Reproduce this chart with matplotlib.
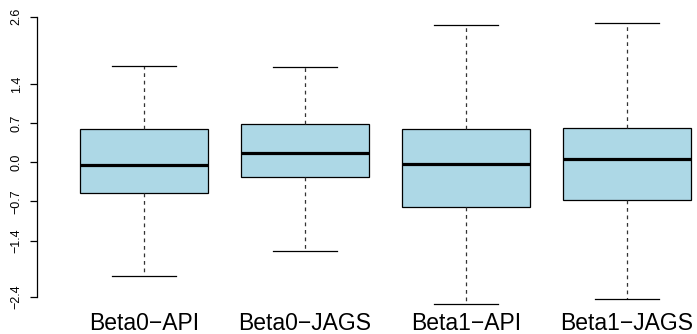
import matplotlib
matplotlib.use("Agg")
import matplotlib.pyplot as plt

categories = ["Beta0\u2212API", "Beta0\u2212JAGS", "Beta1\u2212API", "Beta1\u2212JAGS"]
whislo = [-2.03, -1.58, -2.53, -2.44]
q1 = [-0.54, -0.26, -0.79, -0.68]
med = [-0.04, 0.17, -0.03, 0.06]
q3 = [0.60, 0.68, 0.60, 0.61]
whishi = [1.72, 1.70, 2.45, 2.49]
yticks = [-2.4, -1.4, -0.7, 0.0, 0.7, 1.4, 2.6]

W, H = 697, 334
fig = plt.figure(figsize=(W / 100, H / 100), dpi=100)

# pixel mapping: y_px = 162.3 - 56*v ; x: 1 -> 144, spacing 161
ylo, yhi = -2.75, 2.7
top_px = 162.3 - 56 * yhi
bot_px = 162.3 - 56 * ylo
xl_px = 36.7
xlo = 1 - (144 - xl_px) / 161
xhi = 1 + (W - 144) / 161
ax = fig.add_axes([xl_px / W, 1 - bot_px / H, (W - xl_px) / W, (bot_px - top_px) / H])

stats = []
for i, c in enumerate(categories):
    stats.append(dict(label=c, whislo=whislo[i], q1=q1[i], med=med[i], q3=q3[i], whishi=whishi[i], fliers=[]))

ax.bxp(stats, positions=[1, 2, 3, 4], widths=0.8, capwidths=0.4, patch_artist=True,
       boxprops=dict(facecolor="lightblue", edgecolor="black", linewidth=0.9),
       medianprops=dict(color="black", linewidth=2.3, solid_capstyle="butt"),
       whiskerprops=dict(color="#333333", linewidth=0.9, linestyle=(0, (3, 3))),
       capprops=dict(color="black", linewidth=0.9),
       showfliers=False)

ax.set_xlim(xlo, xhi)
ax.set_ylim(ylo, yhi)
for s in ["top", "right", "bottom"]:
    ax.spines[s].set_visible(False)
ax.spines["left"].set_bounds(-2.4, 2.6)
ax.spines["left"].set_linewidth(0.9)
ax.set_yticks(yticks)
ax.set_yticklabels([f"{v:.1f}".replace("-", "\u2212") for v in yticks],
                   rotation=90, va="center", fontsize=9, family="Liberation Sans")
ax.tick_params(axis="y", length=5, width=0.9, pad=5)
ax.tick_params(axis="x", length=0, pad=-3)
ax.set_xticks([1, 2, 3, 4])
ax.set_xticklabels(categories, fontsize=16.5, family="Liberation Sans")

fig.savefig("out.png", dpi=100)
